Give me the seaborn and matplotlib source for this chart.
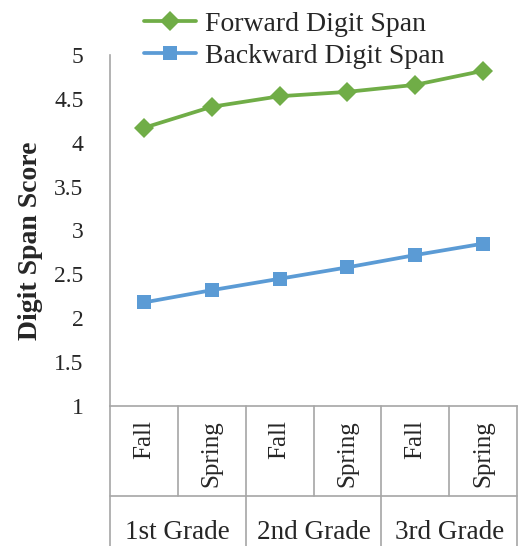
import numpy as np
import pandas as pd
import matplotlib
matplotlib.use("Agg")
import matplotlib.pyplot as plt
import matplotlib.transforms as mtransforms
import seaborn as sns

# data
semesters = ["Fall", "Spring", "Fall", "Spring", "Fall", "Spring"]
grades = ["1st Grade", "2nd Grade", "3rd Grade"]
forward = [4.17, 4.41, 4.53, 4.58, 4.66, 4.82]
backward = [2.18, 2.32, 2.45, 2.58, 2.72, 2.85]
series_names = ["Forward Digit Span", "Backward Digit Span"]
yticks = [1, 1.5, 2, 2.5, 3, 3.5, 4, 4.5, 5]
ytick_labels = ["1", "1.5", "2", "2.5", "3", "3.5", "4", "4.5", "5"]

GREEN = "#70AD47"
BLUE = "#5B9BD5"
GRAY = "#A6A6A6"

sns.set_style("white")
plt.rcParams["font.family"] = ["Liberation Serif", "DejaVu Serif"]

pos = np.arange(len(semesters))
df = pd.DataFrame({
    "pos": np.concatenate([pos, pos]),
    "score": forward + backward,
    "series": [series_names[0]] * len(pos) + [series_names[1]] * len(pos),
})

fig = plt.figure(figsize=(5.27, 5.46), dpi=100)
ax = fig.add_axes([110 / 527, 1 - 406 / 546, (517 - 110) / 527, (406 - 55) / 546])

sns.lineplot(data=df, x="pos", y="score", hue="series", style="series",
             hue_order=series_names, style_order=series_names,
             palette={series_names[0]: GREEN, series_names[1]: BLUE},
             markers={series_names[0]: "D", series_names[1]: "s"},
             dashes=False, linewidth=2.7, markersize=10,
             markeredgewidth=0, ax=ax, legend=True)

ax.set_xlim(-0.5, len(pos) - 0.5)
ax.set_ylim(1, 5)
ax.set_yticks(yticks)
ax.set_yticklabels(ytick_labels, fontsize=17)
ax.set_xticks([])
ax.set_xlabel("")
ax.set_ylabel("Digit Span Score", fontsize=20, fontweight="bold")
ax.yaxis.set_label_coords(-0.165, 0.47)

for s in ["top", "right"]:
    ax.spines[s].set_visible(False)
for s in ["left", "bottom"]:
    ax.spines[s].set_color(GRAY)
    ax.spines[s].set_linewidth(1.2)
ax.tick_params(axis="y", length=7, width=1.2, color=GRAY, pad=12)

# category table under the axis
trans = mtransforms.blended_transform_factory(ax.transData, ax.transAxes)
row1 = -0.256
bottom = -0.41
for i in range(len(pos) + 1):
    xb = i - 0.5
    yb = bottom if i % 2 == 0 else row1
    ax.plot([xb, xb], [0, yb], color=GRAY, lw=1.2, transform=trans, clip_on=False)
ax.plot([-0.5, len(pos) - 0.5], [row1, row1], color=GRAY, lw=1.2,
        transform=trans, clip_on=False)

for i, lab in enumerate(semesters):
    ax.text(pos[i], -0.040, lab, rotation=90, ha="center", va="top",
            fontsize=18, transform=trans)
for g, lab in enumerate(grades):
    ax.text(2 * g + 0.5, -0.36, lab, ha="center", va="center",
            fontsize=19.5, transform=trans)

handles, labels = ax.get_legend_handles_labels()
ax.get_legend().remove()
fig.legend(handles, labels, loc="upper left", bbox_to_anchor=(127 / 527, 1.01),
           frameon=False, fontsize=20, handlelength=1.9, handletextpad=0.3,
           labelspacing=0.25, borderpad=0.1)

fig.savefig("out.png", dpi=100)
